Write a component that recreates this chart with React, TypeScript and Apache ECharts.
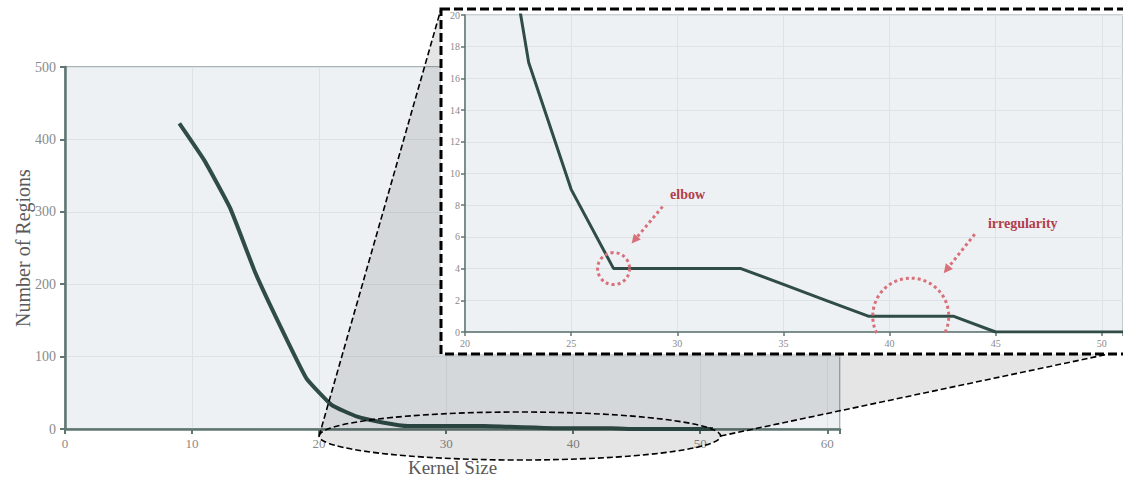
import React, { useEffect, useRef } from "react";
import * as echarts from "echarts";

const kernelSizes = [9, 11, 13, 15, 17, 19, 21, 23, 25, 27, 29, 31, 33, 35, 37, 39, 41, 43, 45, 47, 49, 51];
const regionCounts = [422, 370, 305, 215, 140, 70, 33, 17, 9, 4, 4, 4, 4, 3, 2, 1, 1, 1, 0, 0, 0, 0];
const mainXTicks = [0, 10, 20, 30, 40, 50, 60];
const mainYTicks = [0, 100, 200, 300, 400, 500];
const zoomXTicks = [20, 25, 30, 35, 40, 45, 50];
const zoomYTicks = [0, 2, 4, 6, 8, 10, 12, 14, 16, 18, 20];
const annotationLabels = ["elbow", "irregularity"];
const annotationPoints = [[27, 4], [41, 1]];

const W = 1123;
const H = 479;
const LINE = "#2f4c47";
const AXIS = "#5f7672";
const BG = "#eef1f4";
const GRIDLINE = "#dde2e7";
const RED_TXT = "#b13e4b";
const RED_DASH = "#d8707a";
const SERIF = "'Liberation Serif', 'DejaVu Serif', serif";

export default function App() {
  const ref = useRef<HTMLDivElement>(null);
  useEffect(() => {
    if (!ref.current) return;
    const chart = echarts.init(ref.current, undefined, { renderer: "svg", width: W, height: H });
    const pts = kernelSizes.map((k, i) => [k, regionCounts[i]]);
    const zoomPts = pts.filter((p) => (p[0] as number) >= 21);

    const axisCommon = (grid: number, isMain: boolean) => ({
      gridIndex: grid,
      z: isMain ? 0 : 12,
      nameMoveOverlap: false,
      axisLine: { show: true, onZero: false, lineStyle: { color: AXIS, width: isMain ? 2.5 : 1.5 } },
      axisTick: { show: true, length: isMain ? 5 : 4, lineStyle: { color: AXIS, width: isMain ? 2 : 1.5 } },
      splitLine: { show: true, lineStyle: { color: GRIDLINE, width: 1 } },
    });

    const option: any = {
      animation: false,
      grid: [
        { left: 65, top: 67, right: W - 840, bottom: H - 429, containLabel: false, outerBoundsMode: "none", show: true, z: 0, backgroundColor: BG, borderColor: "#8d9a98", borderWidth: 1.5 },
        { left: 465, top: 15, right: 0, bottom: H - 332, containLabel: false, outerBoundsMode: "none", show: true, z: 11, backgroundColor: BG, borderColor: "#9aa4a3", borderWidth: 1 },
      ],
      xAxis: [
        {
          ...axisCommon(0, true),
          type: "value",
          min: 0,
          max: 61,
          interval: 10,
          name: "Kernel Size",
          nameLocation: "middle",
          nameGap: 29,
          nameTextStyle: { fontFamily: SERIF, fontSize: 19, color: "#5a5a5a" },
          axisLabel: {
            color: "#8a8a8a",
            fontFamily: SERIF,
            fontSize: 13,
            margin: 8,
            formatter: (v: number) => (mainXTicks.includes(v) ? String(v) : ""),
          },
        },
        {
          ...axisCommon(1, false),
          type: "value",
          min: 20,
          max: 51,
          interval: 5,
          axisLabel: {
            color: "#8a8a8a",
            fontFamily: SERIF,
            fontSize: 10,
            margin: 6,
            formatter: (v: number) => (zoomXTicks.includes(v) ? String(v) : ""),
          },
        },
      ],
      yAxis: [
        {
          ...axisCommon(0, true),
          type: "value",
          min: 0,
          max: 500,
          interval: 100,
          name: "Number of Regions",
          nameLocation: "middle",
          nameGap: 32,
          nameTextStyle: { fontFamily: SERIF, fontSize: 20, color: "#5a5a5a" },
          axisLabel: {
            color: "#8a8a8a",
            fontFamily: SERIF,
            fontSize: 14,
            margin: 9,
            formatter: (v: number) => (mainYTicks.includes(v) ? String(v) : ""),
          },
        },
        {
          ...axisCommon(1, false),
          type: "value",
          min: 0,
          max: 20,
          interval: 2,
          axisLabel: {
            color: "#8a8a8a",
            fontFamily: SERIF,
            fontSize: 10,
            margin: 5,
            formatter: (v: number) => (zoomYTicks.includes(v) ? String(v) : ""),
          },
        },
      ],
      series: [
        {
          type: "line",
          xAxisIndex: 0,
          yAxisIndex: 0,
          data: pts,
          smooth: 0.12,
          showSymbol: false,
          lineStyle: { color: LINE, width: 4 },
          z: 2,
        },
        {
          type: "line",
          xAxisIndex: 1,
          yAxisIndex: 1,
          data: zoomPts,
          showSymbol: false,
          clip: true,
          lineStyle: { color: LINE, width: 3 },
          z: 20,
        },
      ],
    };
    chart.setOption(option);

    const pL = chart.convertToPixel({ gridIndex: 0 }, [20, 0]) as number[];
    const pR = chart.convertToPixel({ gridIndex: 0 }, [51.6, 0]) as number[];
    const ecx = (pL[0] + pR[0]) / 2;
    const ecy = pL[1] + 7;
    const erx = (pR[0] - pL[0]) / 2;
    const ery = 24;
    const boxL = 441, boxT = 9, boxB = 354, boxR = W + 10;
    const arcPts: number[][] = [];
    for (let i = 0; i <= 40; i++) {
      const a = Math.PI + (Math.PI * i) / 40;
      arcPts.push([ecx + erx * Math.cos(a), ecy + ery * Math.sin(a)]);
    }
    const shade = [[boxL, boxT], [boxL, boxB], [W, boxB], [W, 350], ...arcPts.slice().reverse()];

    const graphics: any[] = [
      { type: "polygon", shape: { points: shade }, style: { fill: "rgba(0,0,0,0.1)" }, z: 5, silent: true },
      { type: "ellipse", shape: { cx: ecx, cy: ecy, rx: erx, ry: ery }, style: { fill: "rgba(0,0,0,0.1)", stroke: "#000", lineWidth: 1.6, lineDash: [6, 3] }, z: 6, silent: true },
      { type: "line", shape: { x1: ecx - erx, y1: ecy, x2: boxL, y2: boxT }, style: { stroke: "#000", lineWidth: 1.6, lineDash: [6, 3] }, z: 6, silent: true },
      { type: "line", shape: { x1: ecx + erx, y1: ecy, x2: W, y2: 351 }, style: { stroke: "#000", lineWidth: 1.6, lineDash: [6, 3] }, z: 6, silent: true },
      { type: "rect", shape: { x: boxL, y: boxT, width: boxR - boxL, height: boxB - boxT }, style: { fill: "#ffffff", stroke: "#000", lineWidth: 3, lineDash: [9, 4] }, z: 7, silent: true },
    ];

    const c1 = chart.convertToPixel({ gridIndex: 1 }, annotationPoints[0]) as number[];
    const c2 = chart.convertToPixel({ gridIndex: 1 }, annotationPoints[1]) as number[];
    const dashStyle = { stroke: RED_DASH, lineWidth: 3, lineDash: [3, 3], fill: "none" };
    const arrow = (x1: number, y1: number, x2: number, y2: number) => {
      const ang = Math.atan2(y2 - y1, x2 - x1);
      const len = 9, half = 4.5;
      const bx = x2 - len * Math.cos(ang), by = y2 - len * Math.sin(ang);
      const nx = -Math.sin(ang), ny = Math.cos(ang);
      return [
        { type: "line", shape: { x1, y1, x2: bx, y2: by }, style: dashStyle, z: 30, silent: true },
        { type: "polygon", shape: { points: [[x2, y2], [bx + nx * half, by + ny * half], [bx - nx * half, by - ny * half]] }, style: { fill: RED_DASH }, z: 30, silent: true },
      ];
    };
    graphics.push(
      { type: "circle", shape: { cx: c1[0], cy: c1[1], r: 16 }, style: dashStyle, z: 30, silent: true },
      ...arrow(c1[0] + 49, c1[1] - 62, c1[0] + 18, c1[1] - 25),
      { type: "text", x: c1[0] + 74, y: c1[1] - 74, style: { text: annotationLabels[0], fill: RED_TXT, font: `bold 14px ${SERIF}`, align: "center", verticalAlign: "middle" }, z: 30, silent: true },
      { type: "arc", shape: { cx: c2[0], cy: c2[1], r: 38, startAngle: Math.PI - 0.46, endAngle: 2 * Math.PI + 0.46, clockwise: true }, style: dashStyle, z: 30, silent: true },
      ...arrow(c2[0] + 64, c2[1] - 82, c2[0] + 33, c2[1] - 43),
      { type: "text", x: c2[0] + 112, y: c2[1] - 93, style: { text: annotationLabels[1], fill: RED_TXT, font: `bold 14px ${SERIF}`, align: "center", verticalAlign: "middle" }, z: 30, silent: true },
    );
    chart.setOption({ graphic: { elements: graphics } });

    return () => chart.dispose();
  }, []);
  return <div ref={ref} style={{ position: "fixed", left: 0, top: 0, width: W, height: H, background: "#fff" }} />;
}
